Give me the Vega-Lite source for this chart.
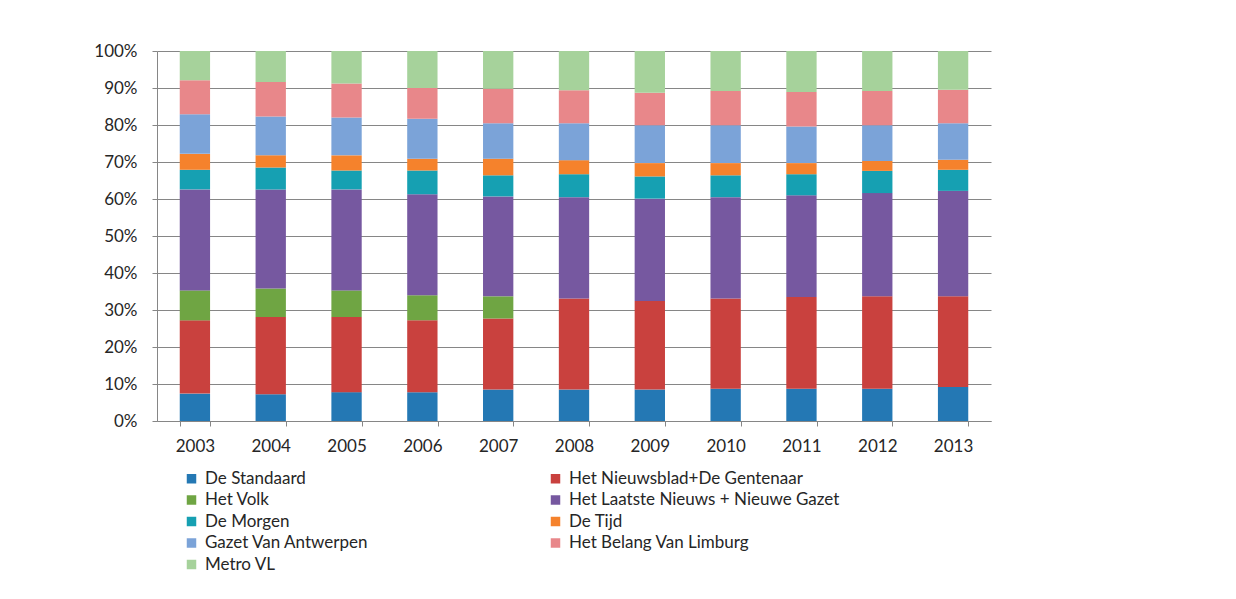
{
  "$schema": "https://vega.github.io/schema/vega-lite/v6.json",
  "autosize": {"type": "none"},
  "padding": {"left": 157, "top": 51, "right": 245, "bottom": 178},
  "width": 834,
  "height": 370,
  "background": "white",
  "config": {
    "font": "Lato",
    "view": {"stroke": null},
    "axis": {"labelFont": "Lato", "labelFontSize": 17, "labelColor": "#262626", "domainColor": "#868686", "tickColor": "#868686", "gridColor": "#868686", "gridOpacity": 1, "domainWidth": 1, "tickWidth": 1, "gridWidth": 1}
  },
  "data": {
    "values": [
      {"y": "2003", "p": "De Standaard", "k": 1, "v": 7.4},
      {"y": "2003", "p": "Het Nieuwsblad+De Gentenaar", "k": 2, "v": 19.8},
      {"y": "2003", "p": "Het Volk", "k": 3, "v": 8.1},
      {"y": "2003", "p": "Het Laatste Nieuws + Nieuwe Gazet", "k": 4, "v": 27.3},
      {"y": "2003", "p": "De Morgen", "k": 5, "v": 5.3},
      {"y": "2003", "p": "De Tijd", "k": 6, "v": 4.3},
      {"y": "2003", "p": "Gazet Van Antwerpen", "k": 7, "v": 10.7},
      {"y": "2003", "p": "Het Belang Van Limburg", "k": 8, "v": 9.2},
      {"y": "2003", "p": "Metro VL", "k": 9, "v": 7.9},
      {"y": "2004", "p": "De Standaard", "k": 1, "v": 7.2},
      {"y": "2004", "p": "Het Nieuwsblad+De Gentenaar", "k": 2, "v": 20.9},
      {"y": "2004", "p": "Het Volk", "k": 3, "v": 7.7},
      {"y": "2004", "p": "Het Laatste Nieuws + Nieuwe Gazet", "k": 4, "v": 26.8},
      {"y": "2004", "p": "De Morgen", "k": 5, "v": 5.9},
      {"y": "2004", "p": "De Tijd", "k": 6, "v": 3.3},
      {"y": "2004", "p": "Gazet Van Antwerpen", "k": 7, "v": 10.5},
      {"y": "2004", "p": "Het Belang Van Limburg", "k": 8, "v": 9.3},
      {"y": "2004", "p": "Metro VL", "k": 9, "v": 8.4},
      {"y": "2005", "p": "De Standaard", "k": 1, "v": 7.8},
      {"y": "2005", "p": "Het Nieuwsblad+De Gentenaar", "k": 2, "v": 20.3},
      {"y": "2005", "p": "Het Volk", "k": 3, "v": 7.2},
      {"y": "2005", "p": "Het Laatste Nieuws + Nieuwe Gazet", "k": 4, "v": 27.3},
      {"y": "2005", "p": "De Morgen", "k": 5, "v": 5.1},
      {"y": "2005", "p": "De Tijd", "k": 6, "v": 4.1},
      {"y": "2005", "p": "Gazet Van Antwerpen", "k": 7, "v": 10.2},
      {"y": "2005", "p": "Het Belang Van Limburg", "k": 8, "v": 9.2},
      {"y": "2005", "p": "Metro VL", "k": 9, "v": 8.8},
      {"y": "2006", "p": "De Standaard", "k": 1, "v": 7.8},
      {"y": "2006", "p": "Het Nieuwsblad+De Gentenaar", "k": 2, "v": 19.4},
      {"y": "2006", "p": "Het Volk", "k": 3, "v": 6.8},
      {"y": "2006", "p": "Het Laatste Nieuws + Nieuwe Gazet", "k": 4, "v": 27.3},
      {"y": "2006", "p": "De Morgen", "k": 5, "v": 6.4},
      {"y": "2006", "p": "De Tijd", "k": 6, "v": 3.2},
      {"y": "2006", "p": "Gazet Van Antwerpen", "k": 7, "v": 10.8},
      {"y": "2006", "p": "Het Belang Van Limburg", "k": 8, "v": 8.3},
      {"y": "2006", "p": "Metro VL", "k": 9, "v": 10.0},
      {"y": "2007", "p": "De Standaard", "k": 1, "v": 8.5},
      {"y": "2007", "p": "Het Nieuwsblad+De Gentenaar", "k": 2, "v": 19.2},
      {"y": "2007", "p": "Het Volk", "k": 3, "v": 6.0},
      {"y": "2007", "p": "Het Laatste Nieuws + Nieuwe Gazet", "k": 4, "v": 27.0},
      {"y": "2007", "p": "De Morgen", "k": 5, "v": 5.7},
      {"y": "2007", "p": "De Tijd", "k": 6, "v": 4.5},
      {"y": "2007", "p": "Gazet Van Antwerpen", "k": 7, "v": 9.6},
      {"y": "2007", "p": "Het Belang Van Limburg", "k": 8, "v": 9.3},
      {"y": "2007", "p": "Metro VL", "k": 9, "v": 10.2},
      {"y": "2008", "p": "De Standaard", "k": 1, "v": 8.5},
      {"y": "2008", "p": "Het Nieuwsblad+De Gentenaar", "k": 2, "v": 24.6},
      {"y": "2008", "p": "Het Laatste Nieuws + Nieuwe Gazet", "k": 4, "v": 27.4},
      {"y": "2008", "p": "De Morgen", "k": 5, "v": 6.2},
      {"y": "2008", "p": "De Tijd", "k": 6, "v": 3.8},
      {"y": "2008", "p": "Gazet Van Antwerpen", "k": 7, "v": 10.0},
      {"y": "2008", "p": "Het Belang Van Limburg", "k": 8, "v": 8.9},
      {"y": "2008", "p": "Metro VL", "k": 9, "v": 10.6},
      {"y": "2009", "p": "De Standaard", "k": 1, "v": 8.5},
      {"y": "2009", "p": "Het Nieuwsblad+De Gentenaar", "k": 2, "v": 23.9},
      {"y": "2009", "p": "Het Laatste Nieuws + Nieuwe Gazet", "k": 4, "v": 27.7},
      {"y": "2009", "p": "De Morgen", "k": 5, "v": 6.0},
      {"y": "2009", "p": "De Tijd", "k": 6, "v": 3.6},
      {"y": "2009", "p": "Gazet Van Antwerpen", "k": 7, "v": 10.2},
      {"y": "2009", "p": "Het Belang Van Limburg", "k": 8, "v": 8.8},
      {"y": "2009", "p": "Metro VL", "k": 9, "v": 11.3},
      {"y": "2010", "p": "De Standaard", "k": 1, "v": 8.7},
      {"y": "2010", "p": "Het Nieuwsblad+De Gentenaar", "k": 2, "v": 24.4},
      {"y": "2010", "p": "Het Laatste Nieuws + Nieuwe Gazet", "k": 4, "v": 27.4},
      {"y": "2010", "p": "De Morgen", "k": 5, "v": 5.9},
      {"y": "2010", "p": "De Tijd", "k": 6, "v": 3.3},
      {"y": "2010", "p": "Gazet Van Antwerpen", "k": 7, "v": 10.2},
      {"y": "2010", "p": "Het Belang Van Limburg", "k": 8, "v": 9.3},
      {"y": "2010", "p": "Metro VL", "k": 9, "v": 10.8},
      {"y": "2011", "p": "De Standaard", "k": 1, "v": 8.7},
      {"y": "2011", "p": "Het Nieuwsblad+De Gentenaar", "k": 2, "v": 24.8},
      {"y": "2011", "p": "Het Laatste Nieuws + Nieuwe Gazet", "k": 4, "v": 27.5},
      {"y": "2011", "p": "De Morgen", "k": 5, "v": 5.7},
      {"y": "2011", "p": "De Tijd", "k": 6, "v": 3.0},
      {"y": "2011", "p": "Gazet Van Antwerpen", "k": 7, "v": 9.9},
      {"y": "2011", "p": "Het Belang Van Limburg", "k": 8, "v": 9.3},
      {"y": "2011", "p": "Metro VL", "k": 9, "v": 11.1},
      {"y": "2012", "p": "De Standaard", "k": 1, "v": 8.7},
      {"y": "2012", "p": "Het Nieuwsblad+De Gentenaar", "k": 2, "v": 25.0},
      {"y": "2012", "p": "Het Laatste Nieuws + Nieuwe Gazet", "k": 4, "v": 27.9},
      {"y": "2012", "p": "De Morgen", "k": 5, "v": 6.0},
      {"y": "2012", "p": "De Tijd", "k": 6, "v": 2.7},
      {"y": "2012", "p": "Gazet Van Antwerpen", "k": 7, "v": 9.6},
      {"y": "2012", "p": "Het Belang Van Limburg", "k": 8, "v": 9.3},
      {"y": "2012", "p": "Metro VL", "k": 9, "v": 10.8},
      {"y": "2013", "p": "De Standaard", "k": 1, "v": 9.2},
      {"y": "2013", "p": "Het Nieuwsblad+De Gentenaar", "k": 2, "v": 24.5},
      {"y": "2013", "p": "Het Laatste Nieuws + Nieuwe Gazet", "k": 4, "v": 28.5},
      {"y": "2013", "p": "De Morgen", "k": 5, "v": 5.7},
      {"y": "2013", "p": "De Tijd", "k": 6, "v": 2.7},
      {"y": "2013", "p": "Gazet Van Antwerpen", "k": 7, "v": 9.9},
      {"y": "2013", "p": "Het Belang Van Limburg", "k": 8, "v": 9.0},
      {"y": "2013", "p": "Metro VL", "k": 9, "v": 10.5}
    ]
  },
  "mark": {"type": "bar"},
  "encoding": {
    "x": {
      "field": "y", "type": "ordinal",
      "scale": {"paddingInner": 0.6, "paddingOuter": 0.3},
      "axis": {"title": null, "labelAngle": 0, "tickBand": "extent", "tickSize": 5, "labelPadding": 12, "grid": false}
    },
    "y": {
      "field": "v", "type": "quantitative", "stack": "normalize",
      "scale": {"domain": [0, 1]},
      "axis": {"title": null, "format": ".0%", "values": [0, 0.1, 0.2, 0.3, 0.4, 0.5, 0.6, 0.7, 0.8, 0.9, 1], "tickSize": 5, "labelPadding": 15, "grid": true}
    },
    "order": {"field": "k", "type": "quantitative", "sort": "ascending"},
    "color": {
      "field": "p", "type": "nominal",
      "scale": {
        "domain": ["De Standaard", "Het Volk", "De Morgen", "Gazet Van Antwerpen", "Metro VL", "Het Nieuwsblad+De Gentenaar", "Het Laatste Nieuws + Nieuwe Gazet", "De Tijd", "Het Belang Van Limburg"],
        "range": ["#2478b4", "#6fa543", "#16a0b2", "#7ba3d8", "#a6d29b", "#c9413e", "#7658a0", "#f5822c", "#e8878a"]
      },
      "legend": {
        "title": null, "orient": "none", "legendX": 26, "legendY": 419, "columns": 2, "columnPadding": 178, "rowPadding": 3.5,
        "padding": 0, "symbolType": "square", "symbolSize": 90, "symbolStrokeWidth": 0, "symbolOffset": 0, "labelOffset": 5,
        "labelFont": "Lato", "labelFontSize": 17, "labelColor": "#262626", "labelLimit": 400
      }
    }
  }
}
